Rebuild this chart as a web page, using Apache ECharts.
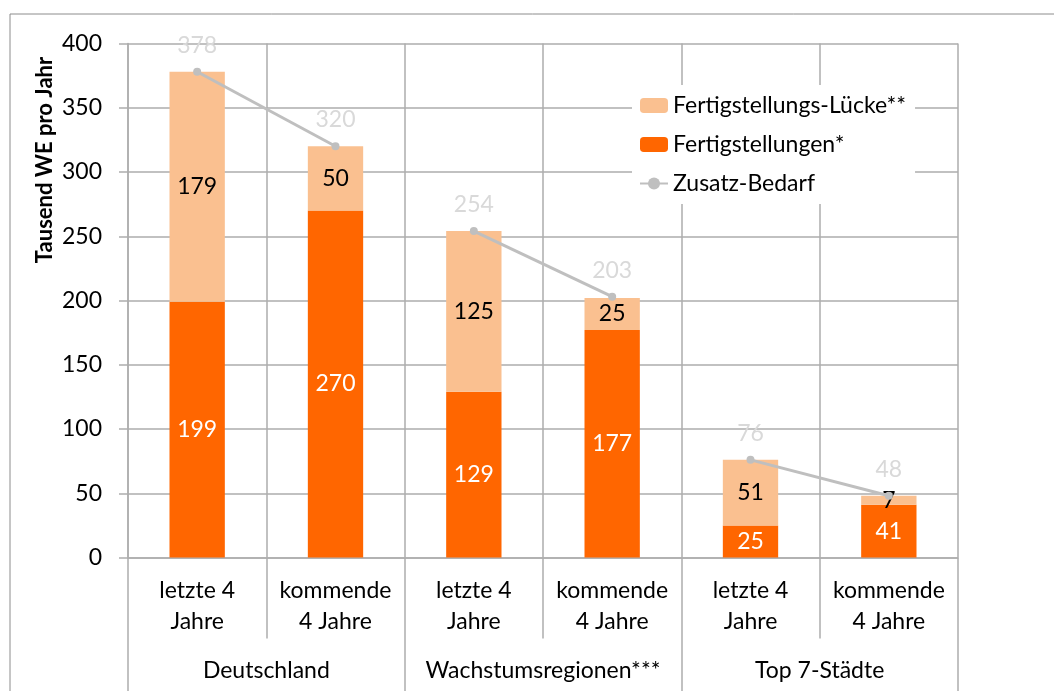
<!DOCTYPE html>
<html>
<head>
<meta charset="utf-8">
<script src="https://cdn.jsdelivr.net/npm/echarts@6/dist/echarts.min.js"></script>
<style>
  html, body { margin: 0; padding: 0; background: #fff; }
  #chart { width: 1054px; height: 691px; }
</style>
</head>
<body>
<div id="chart"></div>
<script>
const categories = ['letzte 4\nJahre', 'kommende\n4 Jahre', 'letzte 4\nJahre', 'kommende\n4 Jahre', 'letzte 4\nJahre', 'kommende\n4 Jahre'];
const groups = ['Deutschland', 'Wachstumsregionen***', 'Top 7-Städte'];
const fertigstellungen = [199, 270, 129, 177, 25, 41];
const luecke = [179, 50, 125, 25, 51, 7];
const zusatzBedarf = [378, 320, 254, 203, 76, 48];
const yTicks = [0, 50, 100, 150, 200, 250, 300, 350, 400];

const FONT = 'Lato';
const FS = 23;
const GRID = '#ADADAD';

const chart = echarts.init(document.getElementById('chart'));

// the line only joins the two bars inside each group
const lineSeries = groups.map((g, gi) => ({
  name: 'Zusatz-Bedarf',
  type: 'line',
  data: zusatzBedarf.map((v, i) => (Math.floor(i / 2) === gi ? v : '-')),
  symbol: 'circle',
  symbolSize: 8,
  itemStyle: { color: '#BFBFBF' },
  lineStyle: { color: '#BFBFBF', width: 3 },
  z: 5,
  label: { show: true, position: 'top', distance: 11, color: '#D9D9D9', fontFamily: FONT, fontSize: FS }
}));

const option = {
  backgroundColor: '#fff',
  textStyle: { fontFamily: FONT },
  animation: false,
  grid: { left: 128, right: 96, top: 43.5, bottom: 133.5 },
  legend: {
    orient: 'vertical',
    left: 632,
    top: 85,
    padding: [9, 9, 9, 7],
    backgroundColor: '#fff',
    itemWidth: 28,
    itemHeight: 15,
    itemGap: 16,
    data: ['Fertigstellungs-Lücke**', 'Fertigstellungen*', 'Zusatz-Bedarf'],
    textStyle: { fontFamily: FONT, fontSize: FS, color: '#000' }
  },
  graphic: [
    {
      type: 'rect',
      shape: { x: 10, y: 14, width: 1100, height: 700 },
      style: { fill: 'none', stroke: '#8C8C8C', lineWidth: 1 },
      silent: true
    },
    {
      type: 'text',
      x: 45,
      y: 160,
      rotation: Math.PI / 2,
      style: {
        text: 'Tausend WE pro Jahr',
        fontFamily: FONT,
        fontSize: 22,
        fontWeight: 'bold',
        fill: '#000',
        align: 'center',
        verticalAlign: 'middle'
      }
    }
  ],
  xAxis: [
    {
      type: 'category',
      data: categories,
      position: 'bottom',
      axisLine: { show: true, lineStyle: { color: GRID, width: 1.5 } },
      axisTick: { show: true, interval: 0, length: 81, lineStyle: { color: GRID, width: 1.5 } },
      splitLine: { show: true, interval: 0, lineStyle: { color: GRID, width: 1.5 } },
      axisLabel: {
        interval: 0,
        margin: 18,
        fontFamily: FONT,
        fontSize: FS,
        lineHeight: 31,
        color: '#000'
      }
    },
    {
      type: 'category',
      data: groups,
      position: 'bottom',
      axisLine: { show: false },
      axisTick: { show: true, interval: 0, length: 134, lineStyle: { color: GRID, width: 1.5 } },
      splitLine: { show: false },
      axisLabel: {
        interval: 0,
        margin: 102,
        fontFamily: FONT,
        fontSize: FS,
        color: '#000'
      }
    }
  ],
  yAxis: {
    type: 'value',
    min: yTicks[0],
    max: yTicks[yTicks.length - 1],
    interval: 50,
    axisLine: { show: true, lineStyle: { color: GRID, width: 1.5 } },
    axisTick: { show: true, length: 9, lineStyle: { color: GRID, width: 1.5 } },
    splitLine: { show: true, lineStyle: { color: GRID, width: 1.5 } },
    axisLabel: { margin: 26, fontFamily: FONT, fontSize: FS, color: '#000' }
  },
  series: [
    {
      name: 'Fertigstellungen*',
      type: 'bar',
      stack: 'total',
      barWidth: '40%',
      data: fertigstellungen,
      itemStyle: { color: '#FF6600' },
      label: { show: true, position: 'inside', color: '#fff', fontFamily: FONT, fontSize: FS }
    },
    {
      name: 'Fertigstellungs-Lücke**',
      type: 'bar',
      stack: 'total',
      barWidth: '40%',
      data: luecke,
      itemStyle: { color: '#FAC090' },
      label: { show: true, position: 'inside', color: '#000', fontFamily: FONT, fontSize: FS }
    }
  ].concat(lineSeries)
};

chart.setOption(option);
</script>
</body>
</html>
